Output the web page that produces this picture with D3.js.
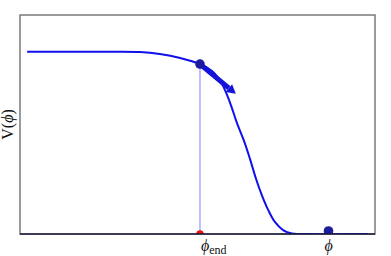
<!DOCTYPE html>
<html>
<head>
<meta charset="utf-8">
<script src="https://cdn.jsdelivr.net/npm/d3@7"></script>
<style>
  body { margin: 0; background: #fff; }
</style>
</head>
<body>
<svg id="chart"></svg>
<script>
// DATOS
const phi = [0.02, 0.225, 0.338, 0.394, 0.451, 0.507, 0.541, 0.569, 0.592, 0.611, 0.631, 0.648, 0.665, 0.682, 0.699, 0.718, 0.741, 0.766, 0.789, 0.98];
const V   = [0.832, 0.832, 0.831, 0.822, 0.804, 0.776, 0.744, 0.685, 0.598, 0.507, 0.425, 0.342, 0.251, 0.174, 0.110, 0.055, 0.018, 0.002, 0.0, 0.0];

const phiEnd = 0.507;      // fin de la inflacion
const Vend = 0.776;
const phiMin = 0.869;      // minimo del potencial
const Vmin = 0.014;
const arrowEnd = [0.608, 0.640]; // punta de la flecha

const xLabels = [{ x: phiEnd, sub: "end" }, { x: phiMin, sub: "" }];

// DIMENSIONES
const width = 391, height = 256;
const margin = { top: 15, right: 16, bottom: 22, left: 20 };
const font = "Liberation Serif, Times New Roman, serif";

const svg = d3.select("#chart")
  .attr("width", width)
  .attr("height", height);

// ESCALAS
const x = d3.scaleLinear().domain([0, 1]).range([margin.left, width - margin.right]);
const y = d3.scaleLinear().domain([0, 1]).range([height - margin.bottom, margin.top]);

svg.append("clipPath").attr("id", "clip")
  .append("rect")
  .attr("x", x(0)).attr("y", y(1))
  .attr("width", x(1) - x(0)).attr("height", y(0) - y(1));

// MARCO
svg.append("rect")
  .attr("x", x(0)).attr("y", y(1))
  .attr("width", x(1) - x(0)).attr("height", y(0) - y(1))
  .attr("fill", "none")
  .attr("stroke", "#7a7a7a")
  .attr("stroke-width", 1.5);

const plot = svg.append("g").attr("clip-path", "url(#clip)");

// LINEA VERTICAL
plot.append("line")
  .attr("x1", x(phiEnd)).attr("x2", x(phiEnd))
  .attr("y1", y(Vend)).attr("y2", y(0))
  .attr("stroke", "#7f7fff")
  .attr("stroke-width", 1);

// CURVA
const line = d3.line()
  .x((d, i) => x(phi[i]))
  .y(d => y(d))
  .curve(d3.curveCatmullRom.alpha(0.5));

plot.append("path")
  .datum(V)
  .attr("d", line)
  .attr("fill", "none")
  .attr("stroke", "#1010ee")
  .attr("stroke-width", 2);

// EJE INFERIOR
svg.append("line")
  .attr("x1", x(0)).attr("x2", x(1))
  .attr("y1", y(0)).attr("y2", y(0))
  .attr("stroke", "#1a1a3a")
  .attr("stroke-width", 1.5);

// FLECHA
const x0 = x(phiEnd), y0 = y(Vend);
const x1 = x(arrowEnd[0]), y1 = y(arrowEnd[1]);
const ang = Math.atan2(y1 - y0, x1 - x0);
const headLen = 9, headW = 5;
const bx = x1 - headLen * Math.cos(ang), by = y1 - headLen * Math.sin(ang);
svg.append("line")
  .attr("x1", x0).attr("y1", y0)
  .attr("x2", bx).attr("y2", by)
  .attr("stroke", "#1414d8")
  .attr("stroke-width", 5);
svg.append("path")
  .attr("d", `M${x1},${y1} L${bx - headW * Math.sin(ang)},${by + headW * Math.cos(ang)} L${bx + headW * Math.sin(ang)},${by - headW * Math.cos(ang)} Z`)
  .attr("fill", "#1414d8");

// PUNTOS
plot.append("circle")
  .attr("cx", x(phiEnd)).attr("cy", y(0)).attr("r", 3.8)
  .attr("fill", "#ee1111");
plot.append("circle")
  .attr("cx", x(phiMin)).attr("cy", y(Vmin)).attr("r", 4.8)
  .attr("fill", "#1c1c9c");
svg.append("circle")
  .attr("cx", x(phiEnd)).attr("cy", y(Vend)).attr("r", 4.8)
  .attr("fill", "#1c1c9c");

// ETIQUETAS EJE X
const lab = svg.selectAll(".xlab")
  .data(xLabels)
  .enter()
  .append("text")
  .attr("class", "xlab")
  .attr("x", d => x(d.x) + (d.sub ? 1 : -4))
  .attr("y", 251)
  .attr("font-family", font)
  .attr("font-size", 16)
  .attr("fill", "#111");
lab.append("tspan").attr("font-style", "italic").text("\u03D5");
lab.append("tspan").attr("font-size", 12).attr("dy", 3).text(d => d.sub);

// ETIQUETA EJE Y
const yl = svg.append("text")
  .attr("transform", `translate(13, ${(y(0) + y(1)) / 2}) rotate(-90)`)
  .attr("text-anchor", "middle")
  .attr("font-family", font)
  .attr("font-size", 16)
  .attr("fill", "#111");
yl.append("tspan").text("V(");
yl.append("tspan").attr("font-style", "italic").text("\u03D5");
yl.append("tspan").text(")");
</script>
</body>
</html>
